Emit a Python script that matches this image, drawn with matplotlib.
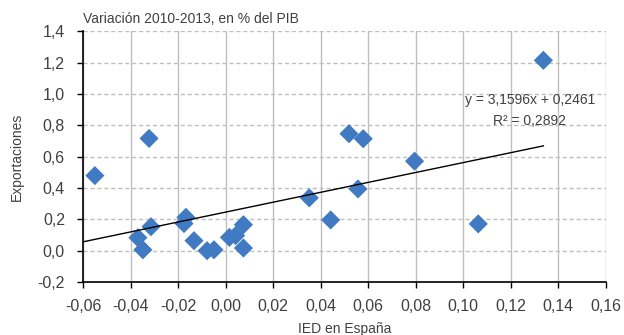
import matplotlib
matplotlib.use("Agg")
import matplotlib.pyplot as plt
from matplotlib.ticker import FuncFormatter, MultipleLocator

# IED (x) vs exportaciones (y), variación 2010-2013 en % del PIB
ied = [-0.0550, -0.0322, -0.0369, -0.0348, -0.0314, -0.0167, -0.0175, -0.0133,
       -0.0078, -0.0049, 0.0016, 0.0042, 0.0075, 0.0075,
       0.1337, 0.0519, 0.0579, 0.0795, 0.0352, 0.0557, 0.0442, 0.1063]
exportaciones = [0.479, 0.716, 0.083, 0.006, 0.153, 0.213, 0.173, 0.064,
                 0.000, 0.006, 0.085, 0.096, 0.166, 0.017,
                 1.214, 0.746, 0.714, 0.571, 0.337, 0.394, 0.196, 0.171]

pendiente = 3.1596
intercepto = 0.2461
r2 = 0.2892

plt.rcParams['font.family'] = ['Liberation Sans', 'DejaVu Sans']
texto = '#404040'

fig = plt.figure(figsize=(6.24, 3.35), dpi=100)
ax = fig.add_axes([0.133, 0.158, 0.838, 0.749])

ax.scatter(ied, exportaciones, marker='D', s=95, color='#3F7AC3',
           edgecolors='none', zorder=3)

x0, x1 = -0.06, max(ied)
ax.plot([x0, x1], [pendiente * x0 + intercepto, pendiente * x1 + intercepto],
        color='black', lw=1.0, zorder=4)

def coma(fmt):
    return FuncFormatter(lambda v, p: (fmt % v).replace('.', ','))

ax.set_xlim(-0.06, 0.16)
ax.set_ylim(-0.2, 1.4)
ax.xaxis.set_major_locator(MultipleLocator(0.02))
ax.yaxis.set_major_locator(MultipleLocator(0.2))
ax.xaxis.set_major_formatter(coma('%.2f'))
ax.yaxis.set_major_formatter(coma('%.1f'))

ax.grid(axis='x', color='#BFBFBF', lw=1.0, ls='-')
ax.grid(axis='y', color='#BFBFBF', lw=1.0, ls=(0, (3, 2)))
ax.set_axisbelow(True)

for s in ['top', 'right']:
    ax.spines[s].set_visible(False)
for s in ['left', 'bottom']:
    ax.spines[s].set_color('black')
    ax.spines[s].set_linewidth(1.2)

ax.tick_params(direction='out', length=4, width=1, colors='black',
               labelcolor=texto, labelsize=11.5)
ax.tick_params(axis='y', pad=9)
ax.tick_params(axis='x', pad=8)

ax.set_xlabel('IED en España', color=texto, fontsize=10, labelpad=6)
ax.set_ylabel('Exportaciones', color=texto, fontsize=10, labelpad=10)
ax.set_title('Variación 2010-2013, en % del PIB', color=texto, fontsize=10,
             loc='left', pad=6)

ax.text(0.128, 0.958, 'y = %s' % ('%.4fx + %.4f' % (pendiente, intercepto)).replace('.', ','),
        ha='center', va='center', fontsize=10, color=texto)
ax.text(0.128, 0.83, 'R² = %s' % ('%.4f' % r2).replace('.', ','),
        ha='center', va='center', fontsize=10, color=texto)

fig.savefig('out.png', dpi=100)
